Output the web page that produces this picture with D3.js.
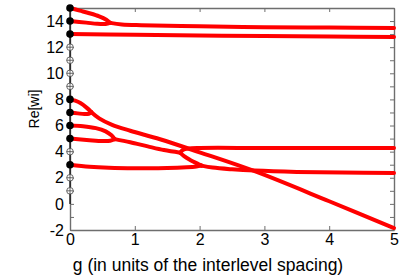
<!DOCTYPE html>
<html>
<head>
<meta charset="utf-8">
<script src="https://cdn.jsdelivr.net/npm/d3@7"></script>
<style>
  html, body { margin: 0; padding: 0; background: #fff; }
  svg { display: block; font-family: "Liberation Sans", Arial, Helvetica, sans-serif; }
</style>
</head>
<body>
<div id="chart"></div>
<script>
// ---- data ----
const gTicks = [0, 1, 2, 3, 4, 5];
const reTicks = [-2, 0, 2, 4, 6, 8, 10, 12, 14];
const reMinorTicks = [-2, -1, 0, 1, 2, 3, 4, 5, 6, 7, 8, 9, 10, 11, 12, 13, 14, 15];
const filledLevels = [15, 14, 13, 8, 7, 6, 5, 3];
const openLevels = [12, 11, 10, 9, 4, 2, 1];

// curve branches: [g, Re[w]]
const branch15 = [[0,15],[0.15,14.8],[0.3,14.6],[0.45,14.36],[0.56,14.1],[0.62,13.86]];
const branch14 = [[0,14],[0.25,13.88],[0.42,13.79],[0.55,13.78],[0.62,13.86]];
const merged1514 = [[0.62,13.86],[0.8,13.74],[1.1,13.68],[2,13.6],[3,13.53],[4,13.5],[5,13.47]];
const line13 = [[0,13],[1,12.95],[2,12.9],[3,12.85],[4,12.81],[5,12.78]];
const branch8 = [[0,8],[0.08,7.9],[0.16,7.72],[0.26,7.35],[0.33,7.02]];
const branch7 = [[0,7],[0.12,6.93],[0.22,6.88],[0.29,6.9],[0.33,7.02]];
const diagonal = [[0.33,7.02],[0.45,6.55],[0.65,6.05],[0.93,5.6],[1.39,4.95],[2,3.95],[2.85,2.5],[4,0.2],[5,-1.85]];
const branch6 = [[0,6],[0.2,5.95],[0.4,5.8],[0.55,5.55],[0.64,5.25],[0.69,4.96]];
const branch5 = [[0,5],[0.3,4.88],[0.5,4.82],[0.62,4.84],[0.69,4.96]];
const merged65 = [[0.69,4.96],[0.93,4.72],[1.2,4.4],[1.45,4.12],[1.7,3.92]];
const upper4 = [[1.7,3.92],[1.74,4.12],[1.82,4.23],[2.0,4.28],[3,4.28],[5,4.28]];
const lowerSplit = [[1.7,3.92],[1.76,3.65],[1.86,3.35],[1.96,3.1],[2.03,2.93]];
const line3 = [[0,3],[0.3,2.85],[0.6,2.77],[1,2.73],[1.5,2.74],[1.8,2.8],[1.95,2.86],[2.03,2.93]];
const merged3 = [[2.03,2.93],[2.2,2.78],[2.5,2.65],[2.85,2.55],[3.5,2.45],[4.2,2.4],[5,2.36]];
const curves = [branch15, branch14, merged1514, line13, branch8, branch7, diagonal,
                branch6, branch5, merged65, upper4, lowerSplit, line3, merged3];

const xTitle = "g (in units of the interlevel spacing)";
const yTitle = "Re[wi]";

// ---- layout ----
const W = 400, H = 280;
const L = 70, R = 394, T = 8, B = 230;

const svg = d3.select("#chart").append("svg").attr("width", W).attr("height", H);
const x = d3.scaleLinear().domain([0, 5]).range([L, R]);
const y = d3.scaleLinear().domain([-2, 15]).range([B, T]);

const boxColor = "#6e6e6e";
const fmt = d => String(d);

// bottom axis
const gx = svg.append("g").attr("transform", `translate(0,${B})`)
  .call(d3.axisBottom(x).tickValues(gTicks).tickSize(-4).tickSizeOuter(0).tickPadding(4).tickFormat(fmt));
// top axis
const gxt = svg.append("g").attr("transform", `translate(0,${T})`)
  .call(d3.axisTop(x).tickValues(gTicks).tickSize(-4).tickSizeOuter(0).tickFormat(""));
// left axis
const gy = svg.append("g").attr("transform", `translate(${L},0)`)
  .call(d3.axisLeft(y).tickValues(reMinorTicks).tickSize(-4).tickSizeOuter(0).tickPadding(6)
    .tickFormat(d => reTicks.includes(d) ? fmt(d) : ""));
// right axis
const gyr = svg.append("g").attr("transform", `translate(${R},0)`)
  .call(d3.axisRight(y).tickValues(reMinorTicks).tickSize(-4).tickSizeOuter(0).tickFormat(""));

[gx, gxt, gy, gyr].forEach(g => {
  g.select(".domain").attr("stroke", boxColor).attr("stroke-width", 1.4);
  g.selectAll(".tick line").attr("stroke", boxColor).attr("stroke-width", 1);
  g.selectAll(".tick text").attr("fill", "#000").attr("font-size", 16)
    .attr("font-family", "'Liberation Sans', Arial, sans-serif");
});

// red curves
const line = d3.line().x(d => x(d[0])).y(d => y(d[1])).curve(d3.curveCatmullRom.alpha(0.5));
svg.append("g").selectAll("path").data(curves).join("path")
  .attr("d", line)
  .attr("fill", "none")
  .attr("stroke", "#ff0000")
  .attr("stroke-width", 4)
  .attr("stroke-linecap", "round")
  .attr("stroke-linejoin", "round");

// black level line at g = 0
svg.append("line")
  .attr("x1", x(0)).attr("x2", x(0))
  .attr("y1", y(0)).attr("y2", y(15))
  .attr("stroke", "#000").attr("stroke-width", 1.2);

// open levels (circle with cross)
const og = svg.append("g").selectAll("g").data(openLevels).join("g")
  .attr("transform", d => `translate(${x(0)},${y(d)})`);
og.append("circle").attr("r", 3.3).attr("fill", "#fff").attr("stroke", "#444").attr("stroke-width", 0.8);
og.append("line").attr("x1", -3.3).attr("x2", 3.3).attr("stroke", "#444").attr("stroke-width", 0.8);
og.append("line").attr("y1", -3.3).attr("y2", 3.3).attr("stroke", "#444").attr("stroke-width", 0.8);

// filled levels
svg.append("g").selectAll("circle").data(filledLevels).join("circle")
  .attr("cx", x(0)).attr("cy", d => y(d)).attr("r", 3.8).attr("fill", "#000");

// titles
svg.append("text").attr("x", 208).attr("y", 271).attr("text-anchor", "middle")
  .attr("font-size", 17.5).attr("fill", "#000").text(xTitle);
svg.append("text").attr("transform", "translate(39,109) rotate(-90)").attr("text-anchor", "middle")
  .attr("font-size", 14).attr("fill", "#000").text(yTitle);
</script>
</body>
</html>
